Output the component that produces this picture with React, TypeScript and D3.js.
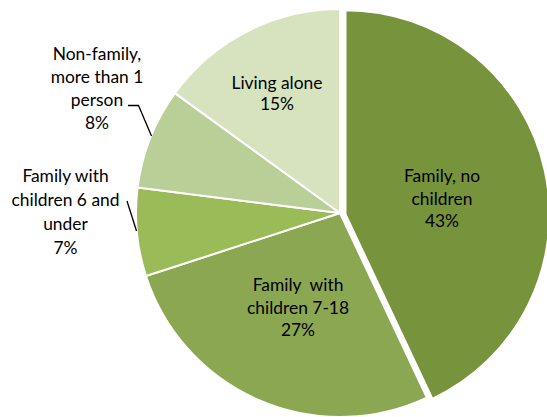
import React from "react";
import * as d3 from "d3";

const categories = [
  "Family, no children",
  "Family with children 7-18",
  "Family with children 6 and under",
  "Non-family, more than 1 person",
  "Living alone",
];
const values = [43, 27, 7, 8, 15];
const labelLines = [
  ["Family, no", "children", "43%"],
  ["Family  with", "children 7-18", "27%"],
  ["Family with", "children 6 and", "under", "7%"],
  ["Non-family,", "more than 1", "person", "8%"],
  ["Living alone", "15%"],
];

// layout (not data)
const W = 547;
const H = 417;
const CX = 340;
const CY = 213;
const R = 204;
const colors = ["#77933C", "#8BA752", "#9BBB59", "#BACE97", "#D6E3BE"];
const explode = [[5.5, 1.2], [0, 0], [0, 0], [0, 0], [0, 0]];
const labelPos = [
  { x: 442, y: 182, lh: 22.6 },
  { x: 298, y: 291, lh: 22.6 },
  { x: 65.5, y: 182, lh: 23.9 },
  { x: 97, y: 60, lh: 23 },
  { x: 277, y: 88.5, lh: 21.5 },
];
const leaders = [
  null,
  null,
  [[127, 201], [136.5, 231]],
  [[128, 105.5], [138.5, 105.5], [151.5, 136]],
  null,
];

export default function App() {
  const pie = d3
    .pie<number>()
    .sort(null)
    .value((d) => d)
    .startAngle(0)
    .endAngle(2 * Math.PI);
  const arcs = pie(values);
  const arc = d3.arc<d3.PieArcDatum<number>>().innerRadius(0).outerRadius(R);
  const line = d3.line();

  return (
    <svg
      width={W}
      height={H}
      style={{ position: "absolute", left: 0, top: 0, background: "#fff" }}
      fontFamily="Lato, 'Open Sans', sans-serif"
    >
      <g transform={`translate(${CX},${CY})`}>
        {arcs.map((a, i) => (
          <path
            key={categories[i]}
            d={arc(a) || ""}
            transform={`translate(${explode[i][0]},${explode[i][1]})`}
            fill={colors[i]}
            stroke="#fff"
            strokeWidth={2}
            strokeLinejoin="round"
          />
        ))}
      </g>
      {leaders.map((pts, i) =>
        pts ? (
          <path
            key={"l" + i}
            d={line(pts as [number, number][]) || ""}
            fill="none"
            stroke="#000"
            strokeWidth={1.3}
          />
        ) : null
      )}
      {labelLines.map((lines, i) => (
        <text
          key={"t" + i}
          x={labelPos[i].x}
          y={labelPos[i].y}
          textAnchor="middle"
          fontSize={17.4}
          fill="#000"
          style={{ whiteSpace: "pre" }}
        >
          {lines.map((ln, j) => (
            <tspan key={j} x={labelPos[i].x} y={labelPos[i].y + j * labelPos[i].lh}>
              {ln}
            </tspan>
          ))}
        </text>
      ))}
    </svg>
  );
}
